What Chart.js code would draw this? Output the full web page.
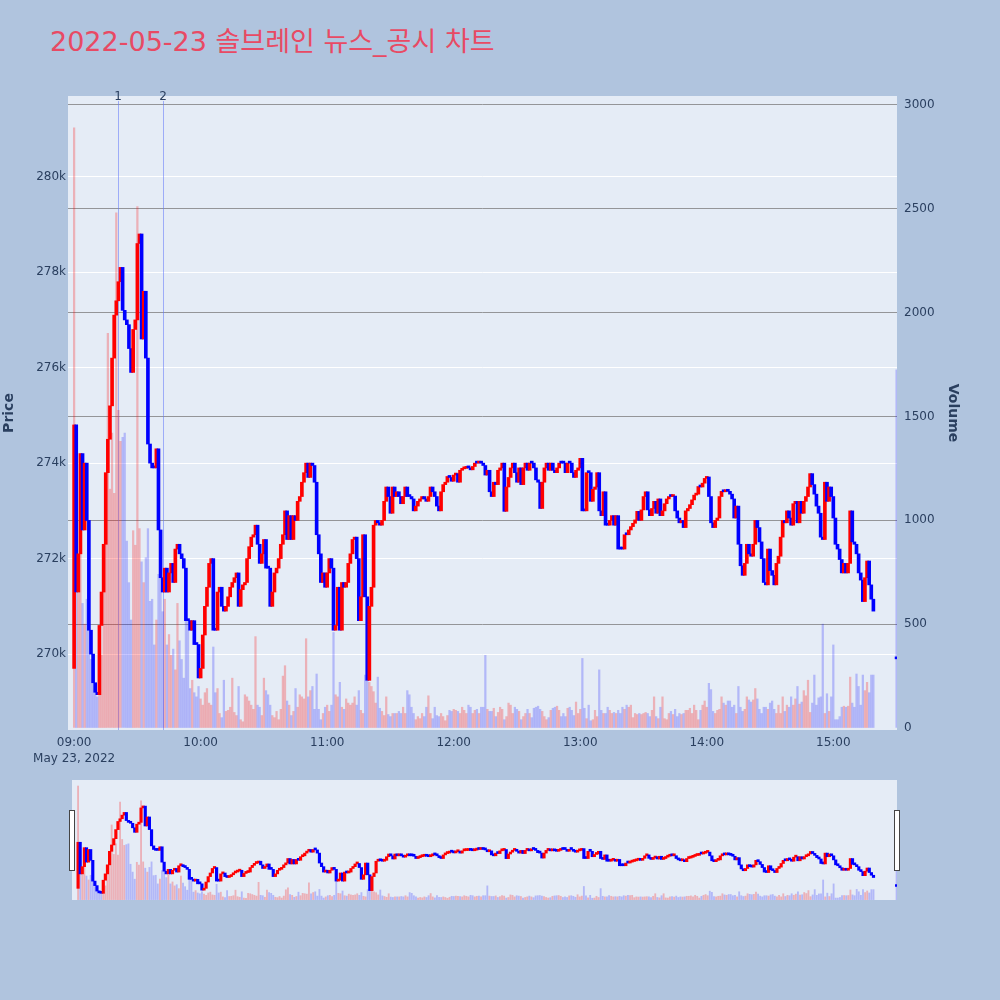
<!DOCTYPE html>
<html lang="ko">
<head>
<meta charset="utf-8">
<title>솔브레인 뉴스_공시 차트</title>
<script src="https://cdn.jsdelivr.net/npm/chart.js@4.4.1/dist/chart.umd.min.js"></script>
<style>
  html, body { margin: 0; padding: 0; background: #b0c4de; }
  #wrap { position: relative; width: 1000px; height: 1000px; }
  #title {
    position: absolute; left: 50px; top: 28px;
    font-family: "DejaVu Sans", "Noto Sans CJK KR", sans-serif;
    font-size: 27px; line-height: 1; color: #e84a64; white-space: nowrap;
  }
  #main { position: absolute; left: 0; top: 0; }
  #slider { position: absolute; left: 0; top: 770px; }
</style>
</head>
<body>
<div id="wrap">
  <div id="title">2022-05-23 솔브레인 뉴스_공시 차트</div>
  <canvas id="main" width="1000" height="770"></canvas>
  <canvas id="slider" width="1000" height="140"></canvas>
</div>
<script>
// 09:00 부터 경과한 분 = 배열 인덱스, 가격은 천원 단위
const firstOpen = 269.7;
const closes = [
  274.8, 271.3, 272.1, 274.2, 272.6, 274.0, 272.8, 270.5, 270.0, 269.4,
  269.2, 269.15, 270.6, 271.3, 272.3, 273.8, 274.5, 275.2, 276.2, 277.1,
  277.4, 277.8, 278.1, 277.2, 277.0, 276.9, 276.4, 275.9, 276.8, 277.0,
  278.6, 278.8, 276.6, 277.6, 276.2, 274.4, 274.0, 273.9, 273.9, 274.3,
  272.6, 271.6, 271.3, 271.8, 271.3, 271.7, 271.9, 271.5, 272.2, 272.3,
  272.1, 272.0, 271.8, 270.7, 270.7, 270.5, 270.7, 270.2, 270.2, 269.5,
  // 10:00
  269.7, 270.4, 271.0, 271.4, 271.9, 272.0, 270.5, 270.5, 271.3, 271.4,
  271.0, 270.9, 271.0, 271.2, 271.4, 271.5, 271.6, 271.7, 271.0, 271.35,
  271.45, 271.5, 272.0, 272.25, 272.45, 272.5, 272.7, 272.3, 271.9, 272.1,
  272.4, 271.8, 271.8, 271.0, 271.3, 271.7, 271.8, 272.0, 272.3, 272.5,
  273.0, 272.4, 272.9, 272.4, 272.9, 272.8, 273.2, 273.3, 273.6, 273.8,
  274.0, 273.7, 274.0, 273.95, 273.6, 272.5, 272.1, 271.5, 271.7, 271.4,
  // 11:00
  271.7, 272.0, 271.8, 270.5, 270.6, 271.4, 270.5, 271.5, 271.4, 271.5,
  271.9, 272.1, 272.4, 272.45, 272.0, 270.7, 271.2, 272.5, 271.2, 269.45,
  271.0, 271.4, 272.7, 272.8, 272.75, 272.7, 272.8, 273.2, 273.5, 273.3,
  272.95, 273.5, 273.3, 273.4, 273.3, 273.15, 273.3, 273.5, 273.3, 273.3,
  273.25, 273.0, 273.1, 273.2, 273.25, 273.3, 273.25, 273.2, 273.3, 273.5,
  273.4, 273.3, 273.1, 273.0, 273.4, 273.55, 273.6, 273.72, 273.7, 273.62,
  // 12:00
  273.75, 273.78, 273.6, 273.85, 273.88, 273.89, 273.93, 273.9, 273.86, 273.93,
  274.0, 274.0, 274.01, 274.0, 273.95, 273.75, 273.85, 273.4, 273.3, 273.6,
  273.55, 273.85, 273.9, 274.0, 272.99, 273.5, 273.7, 273.9, 274.0, 273.8,
  273.6, 273.9, 273.55, 273.9, 274.0, 273.85, 274.0, 274.0, 273.9, 273.65,
  273.6, 273.05, 273.6, 273.9, 274.0, 273.85, 274.0, 273.85, 273.8, 273.9,
  274.0, 274.0, 274.0, 273.8, 274.0, 274.0, 273.8, 273.7, 273.85, 273.9,
  // 13:00
  274.1, 273.0, 273.0, 273.8, 273.8, 273.2, 273.45, 273.5, 273.8, 273.0,
  272.9, 273.4, 272.7, 272.7, 272.8, 272.9, 272.7, 272.9, 272.2, 272.2,
  272.2, 272.5, 272.5, 272.6, 272.67, 272.74, 272.81, 272.99, 272.8, 273.02,
  273.3, 273.4, 273.02, 272.9, 273.05, 273.2, 272.95, 273.25, 272.9, 273.0,
  273.15, 273.25, 273.3, 273.3, 273.31, 273.0, 272.85, 272.75, 272.8, 272.65,
  273.0, 273.05, 273.13, 273.23, 273.33, 273.35, 273.51, 273.5, 273.58, 273.68,
  // 14:00
  273.71, 273.3, 272.75, 272.65, 272.8, 272.85, 273.3, 273.41, 273.4, 273.41,
  273.41, 273.35, 273.25, 272.85, 273.1, 272.3, 271.85, 271.65, 271.9, 272.3,
  272.1, 272.05, 272.3, 272.8, 272.65, 272.35, 272.0, 271.5, 271.45, 272.2,
  271.75, 271.65, 271.45, 271.9, 272.05, 272.45, 272.8, 272.75, 273.0, 272.85,
  272.7, 273.15, 273.2, 272.75, 273.2, 272.95, 273.2, 273.3, 273.5, 273.78,
  273.55, 273.35, 273.1, 272.95, 272.45, 272.4, 273.6, 273.2, 273.5, 273.3,
  // 15:00
  272.85, 272.3, 272.2, 271.98, 271.7, 271.9, 271.7, 271.9, 273.0, 272.35,
  272.3, 272.1, 271.7, 271.55, 271.1, 271.6, 271.95, 271.45, 271.15, 270.9,
  null, null, null, null, null, null, null, null, null, null,
  269.9
];
const volumes = [
  2890, 1170, 800, 1000, 600, 500, 620, 560, 330, 250,
  200, 150, 480, 350, 700, 1000, 1900, 1150, 1420, 1130,
  2480, 1530, 1380, 1400, 1420, 900, 700, 520, 950, 880,
  2510, 960, 800, 700, 820, 960, 610, 620, 400, 520,
  740, 890, 560, 620, 400, 450, 350, 380, 280, 600,
  420, 330, 240, 560, 520, 190, 230, 170, 150, 200,
  140, 110, 170, 190, 120, 110, 390, 170, 190, 70,
  50, 230, 80, 85, 100, 240, 75, 60, 200, 40,
  30, 160, 150, 130, 110, 90, 440, 110, 100, 60,
  240, 180, 160, 110, 60, 50, 80, 40, 90, 250,
  300, 130, 110, 60, 80, 190, 100, 160, 150, 140,
  430, 150, 180, 200, 90, 260, 90, 40, 70, 100,
  110, 80, 110, 460, 160, 150, 220, 100, 90, 140,
  120, 110, 120, 150, 110, 180, 85, 70, 255, 225,
  220, 200, 175, 120, 245, 95, 80, 60, 150, 65,
  55, 70, 70, 70, 80, 70, 100, 70, 180, 160,
  100, 70, 40, 55, 45, 70, 55, 100, 155, 70,
  45, 100, 60, 55, 70, 55, 35, 60, 85, 80,
  90, 85, 80, 70, 100, 85, 70, 110, 100, 70,
  85, 90, 70, 100, 100, 350, 90, 80, 80, 95,
  55, 75, 100, 90, 40, 55, 120, 110, 70, 100,
  90, 80, 40, 55, 70, 90, 70, 50, 95, 100,
  105, 90, 80, 55, 40, 50, 85, 95, 100, 105,
  85, 55, 70, 55, 95, 100, 85, 60, 125, 70,
  90, 335, 95, 45, 110, 35, 40, 85, 55, 280,
  85, 70, 70, 100, 85, 70, 75, 70, 85, 70,
  100, 90, 110, 100, 110, 50, 70, 65, 70, 65,
  70, 75, 70, 55, 85, 150, 55, 45, 100, 150,
  45, 40, 70, 80, 65, 90, 55, 70, 65, 70,
  85, 85, 95, 70, 110, 85, 40, 85, 110, 130,
  100, 215, 185, 80, 70, 85, 90, 150, 120, 110,
  130, 130, 100, 110, 70, 200, 100, 80, 90, 150,
  135, 125, 135, 190, 140, 90, 70, 100, 100, 90,
  120, 130, 90, 70, 110, 70, 150, 80, 110, 100,
  150, 110, 140, 200, 115, 125, 180, 155, 230, 75,
  120, 255, 110, 145, 150, 500, 70, 165, 80, 150,
  400, 40, 40, 55, 100, 105, 100, 105, 245, 120,
  100, 260, 200, 110, 255, 180, 220, 170, 255, 255,
  null, null, null, null, null, null, null, null, null, null,
  1724
];
// 뉴스/공시 시점 (분)
const eventMinutes = [20.8, 42.2];
const eventLabels = ["1", "2"];
const timeTicks = [0, 60, 120, 180, 240, 300, 360];
const priceTicks = [270, 272, 274, 276, 278, 280];
const volumeTicks = [0, 500, 1000, 1500, 2000, 2500, 3000];

// 축 범위
const xMin = -2.9, xMax = 390.2;
const priceMin = 268.41, priceMax = 281.69;
const volMin = -9.6, volMax = 3043;

Chart.defaults.font.family = "'DejaVu Sans', sans-serif";
Chart.defaults.font.size = 12;
Chart.defaults.color = "#2a3f5f";

// 봉 데이터 만들기 (시가 = 직전 종가)
const candles = [];
const volBars = [];
closes.forEach((c, i) => {
  if (c === null) return;
  let o = i === 0 ? firstOpen : closes[i - 1];
  if (o === null) o = c;
  const up = c > o;
  candles.push({ x: i, y: [o, c], up });
  volBars.push({ x: i, y: volumes[i], up });
});

function makeDatasets(candleW, volW) {
  return [
    {
      label: "Volume",
      data: volBars,
      yAxisID: "y2",
      barThickness: volW,
      grouped: false,
      order: 2,
      backgroundColor: (c) => (c.raw && c.raw.up ? "rgba(255,0,0,0.25)" : "rgba(0,0,255,0.22)"),
    },
    {
      label: "Price",
      data: candles,
      yAxisID: "y",
      barThickness: candleW,
      minBarLength: 2,
      grouped: false,
      order: 1,
      backgroundColor: (c) => (c.raw && c.raw.up ? "#ff0000" : "#0000ff"),
    },
  ];
}

function hhmm(v) {
  const h = 9 + Math.floor(v / 60);
  const m = v % 60;
  return String(h).padStart(2, "0") + ":" + String(m).padStart(2, "0");
}

// 플롯 배경
const plotBg = {
  id: "plotBg",
  beforeDraw(chart) {
    const { ctx, chartArea: a } = chart;
    ctx.save();
    ctx.fillStyle = "#e5ecf6";
    ctx.fillRect(a.left, a.top, a.right - a.left, a.bottom - a.top);
    ctx.restore();
  },
};

// 뉴스 시점 세로선
const eventMarks = {
  id: "eventMarks",
  beforeDatasetsDraw(chart) {
    const { ctx, chartArea: a, scales } = chart;
    ctx.save();
    ctx.strokeStyle = "rgba(99,120,250,0.55)";
    ctx.lineWidth = 1;
    eventMinutes.forEach((m) => {
      const x = Math.round(scales.x.getPixelForValue(m)) + 0.5;
      ctx.beginPath();
      ctx.moveTo(x, a.top + 5);
      ctx.lineTo(x, a.bottom);
      ctx.stroke();
    });
    ctx.restore();
  },
  afterDatasetsDraw(chart) {
    const { ctx, chartArea: a, scales } = chart;
    ctx.save();
    ctx.fillStyle = "#2a3f5f";
    ctx.font = "12px 'DejaVu Sans', sans-serif";
    ctx.textAlign = "center";
    ctx.textBaseline = "middle";
    eventMinutes.forEach((m, i) => {
      ctx.fillText(eventLabels[i], scales.x.getPixelForValue(m), a.top + 1);
    });
    ctx.restore();
  },
};

// 레인지 슬라이더 손잡이
const grips = {
  id: "grips",
  afterDraw(chart) {
    const { ctx, chartArea: a } = chart;
    ctx.save();
    ctx.fillStyle = "#fff";
    ctx.strokeStyle = "#444";
    ctx.lineWidth = 1;
    [a.left, a.right].forEach((x) => {
      ctx.fillRect(Math.round(x) - 2.5, a.top + 30.5, 5, 60);
      ctx.strokeRect(Math.round(x) - 2.5, a.top + 30.5, 5, 60);
    });
    ctx.restore();
  },
};

// 메인 차트
new Chart(document.getElementById("main").getContext("2d"), {
  type: "bar",
  data: { datasets: makeDatasets(3, 1.6) },
  options: {
    responsive: false,
    animation: false,
    devicePixelRatio: 1,
    layout: { padding: { top: 96, left: 0, right: 0, bottom: 0 } },
    plugins: { legend: { display: false }, tooltip: { enabled: false } },
    scales: {
      x: {
        type: "linear",
        min: xMin,
        max: xMax,
        offset: false,
        grid: { display: false, drawTicks: false },
        border: { display: false },
        afterBuildTicks: (s) => { s.ticks = timeTicks.map((v) => ({ value: v })); },
        afterFit: (s) => { s.height = 40; },
        ticks: {
          autoSkip: false,
          maxRotation: 0,
          padding: 5,
          font: { size: 12, lineHeight: 1.35 },
          callback: (v) => (v === 0 ? [hhmm(v), "May 23, 2022"] : hhmm(v)),
        },
      },
      y: {
        position: "left",
        min: priceMin,
        max: priceMax,
        grid: { color: "#ffffff", lineWidth: 1, drawTicks: false },
        border: { display: false },
        afterBuildTicks: (s) => { s.ticks = priceTicks.map((v) => ({ value: v })); },
        afterFit: (s) => { s.width = 68; },
        ticks: { padding: 2, callback: (v) => v + "k" },
        title: {
          display: true,
          text: "Price",
          font: { size: 14, weight: "bold" },
          padding: { top: 1, bottom: 0 },
        },
      },
      y2: {
        position: "right",
        min: volMin,
        max: volMax,
        grid: {
          drawTicks: false,
          lineWidth: 1,
          color: (c) => (c.tick && c.tick.value === 0 ? "rgba(0,0,0,0)" : "rgba(120,120,120,0.75)"),
        },
        border: { display: false },
        afterBuildTicks: (s) => { s.ticks = volumeTicks.map((v) => ({ value: v })); },
        afterFit: (s) => { s.width = 103; },
        ticks: { padding: 7, callback: (v) => String(v) },
        title: {
          display: true,
          text: "Volume",
          font: { size: 14, weight: "bold" },
          padding: { top: 39, bottom: 0 },
        },
      },
    },
  },
  plugins: [plotBg, eventMarks],
});

// 하단 레인지 슬라이더 (전체 구간 미니 차트)
new Chart(document.getElementById("slider").getContext("2d"), {
  type: "bar",
  data: { datasets: makeDatasets(2.5, 1.2) },
  options: {
    responsive: false,
    animation: false,
    devicePixelRatio: 1,
    layout: { padding: { top: 10, left: 72, right: 103, bottom: 10 } },
    plugins: { legend: { display: false }, tooltip: { enabled: false } },
    scales: {
      x: { type: "linear", display: false, min: xMin, max: xMax, offset: false },
      y: { display: false, min: priceMin, max: priceMax },
      y2: { display: false, min: volMin, max: volMax },
    },
  },
  plugins: [plotBg, grips],
});
</script>
</body>
</html>
